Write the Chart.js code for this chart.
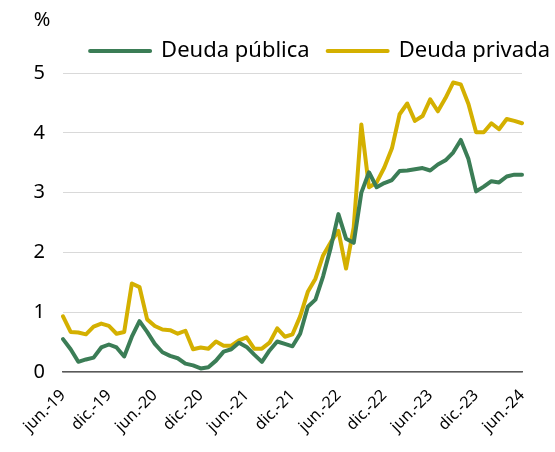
<!DOCTYPE html>
<html>
<head>
<meta charset="utf-8">
<script src="https://cdn.jsdelivr.net/npm/chart.js@4"></script>
<style>
html, body { margin: 0; padding: 0; background: #fff; }
#wrap { width: 555px; height: 452px; }
</style>
</head>
<body>
<div id="wrap"><canvas id="grafico"></canvas></div>
<script>
const meses = [
    "jun.-19", "jul.-19", "ago.-19", "sep.-19", "oct.-19", "nov.-19",
    "dic.-19", "ene.-20", "feb.-20", "mar.-20", "abr.-20", "may.-20",
    "jun.-20", "jul.-20", "ago.-20", "sep.-20", "oct.-20", "nov.-20",
    "dic.-20", "ene.-21", "feb.-21", "mar.-21", "abr.-21", "may.-21",
    "jun.-21", "jul.-21", "ago.-21", "sep.-21", "oct.-21", "nov.-21",
    "dic.-21", "ene.-22", "feb.-22", "mar.-22", "abr.-22", "may.-22",
    "jun.-22", "jul.-22", "ago.-22", "sep.-22", "oct.-22", "nov.-22",
    "dic.-22", "ene.-23", "feb.-23", "mar.-23", "abr.-23", "may.-23",
    "jun.-23", "jul.-23", "ago.-23", "sep.-23", "oct.-23", "nov.-23",
    "dic.-23", "ene.-24", "feb.-24", "mar.-24", "abr.-24", "may.-24",
    "jun.-24"
];

const deudaPublica = [
    0.55, 0.38, 0.17, 0.21, 0.24, 0.41, 0.46, 0.41, 0.26, 0.59,
    0.85, 0.67, 0.47, 0.33, 0.27, 0.23, 0.14, 0.11, 0.06, 0.08,
    0.19, 0.34, 0.38, 0.49, 0.42, 0.29, 0.17, 0.36, 0.51, 0.47,
    0.43, 0.64, 1.09, 1.21, 1.60, 2.08, 2.64, 2.23, 2.16, 3.00,
    3.34, 3.09, 3.16, 3.21, 3.36, 3.37, 3.39, 3.41, 3.37, 3.47,
    3.54, 3.67, 3.88, 3.56, 3.02, 3.10, 3.19, 3.17, 3.27, 3.30,
    3.30
];

const deudaPrivada = [
    0.93, 0.67, 0.66, 0.63, 0.76, 0.81, 0.77, 0.64, 0.67, 1.48,
    1.42, 0.88, 0.77, 0.71, 0.70, 0.64, 0.69, 0.38, 0.41, 0.39,
    0.51, 0.44, 0.44, 0.53, 0.58, 0.39, 0.39, 0.49, 0.73, 0.59,
    0.63, 0.93, 1.34, 1.56, 1.95, 2.17, 2.36, 1.73, 2.42, 4.14,
    3.09, 3.17, 3.42, 3.74, 4.31, 4.49, 4.20, 4.28, 4.56, 4.36,
    4.58, 4.84, 4.81, 4.48, 4.01, 4.01, 4.16, 4.06, 4.23, 4.20,
    4.16
];

const VERDE = "#3b7d56";
const AMARILLO = "#d4b000";
const FUENTE = "'Noto Sans', sans-serif";

// alto fijo de la leyenda para que el área del gráfico empiece en y=73
const ajusteLeyenda = {
    id: "ajusteLeyenda",
    beforeInit(chart) {
        const fitOriginal = chart.legend.fit;
        chart.legend.fit = function () {
            fitOriginal.bind(chart.legend)();
            this.height = 51;
        };
    }
};

// el "%" arriba a la izquierda
const unidad = {
    id: "unidad",
    afterDraw(chart) {
        const ctx = chart.ctx;
        ctx.save();
        ctx.font = "20px " + FUENTE;
        ctx.fillStyle = "#000";
        ctx.textAlign = "center";
        ctx.textBaseline = "middle";
        ctx.fillText("%", 42, 20);
        ctx.restore();
    }
};

new Chart(document.getElementById("grafico"), {
    type: "line",
    data: {
        labels: meses,
        datasets: [
            {
                label: "Deuda pública",
                data: deudaPublica,
                borderColor: VERDE,
                backgroundColor: VERDE,
                borderWidth: 4,
                borderJoinStyle: "round",
                borderCapStyle: "round",
                pointRadius: 0,
                tension: 0
            },
            {
                label: "Deuda privada",
                data: deudaPrivada,
                borderColor: AMARILLO,
                backgroundColor: AMARILLO,
                borderWidth: 4,
                borderJoinStyle: "round",
                borderCapStyle: "round",
                pointRadius: 0,
                tension: 0
            }
        ]
    },
    options: {
        responsive: true,
        maintainAspectRatio: false,
        animation: false,
        layout: { padding: { top: 22, left: 23, right: -13, bottom: 0 } },
        plugins: {
            tooltip: { enabled: false },
            legend: {
                position: "top",
                align: "end",
                labels: {
                    boxWidth: 60,
                    boxHeight: 0,
                    padding: 18,
                    color: "#000",
                    font: { family: FUENTE, size: 22 }
                }
            }
        },
        scales: {
            x: {
                grid: { display: false },
                border: { color: "#595959", width: 1.5 },
                ticks: {
                    autoSkip: false,
                    maxRotation: 45,
                    minRotation: 45,
                    padding: 6,
                    color: "#000",
                    font: { family: FUENTE, size: 16 },
                    callback: (v, i) => (i % 6 === 0 ? meses[i] : "")
                },
                afterFit: s => { s.height = 80; }
            },
            y: {
                min: 0,
                max: 5,
                ticks: {
                    stepSize: 1,
                    padding: 18,
                    color: "#000",
                    font: { family: FUENTE, size: 20 }
                },
                grid: { color: "#d9d9d9", lineWidth: 1, drawTicks: false },
                border: { display: false },
                afterFit: s => { s.width = 40; }
            },
            yDer: {
                position: "right",
                ticks: { display: false },
                grid: { display: false },
                border: { display: false },
                afterFit: s => { s.width = 46; }
            }
        }
    },
    plugins: [ajusteLeyenda, unidad]
});
</script>
</body>
</html>
